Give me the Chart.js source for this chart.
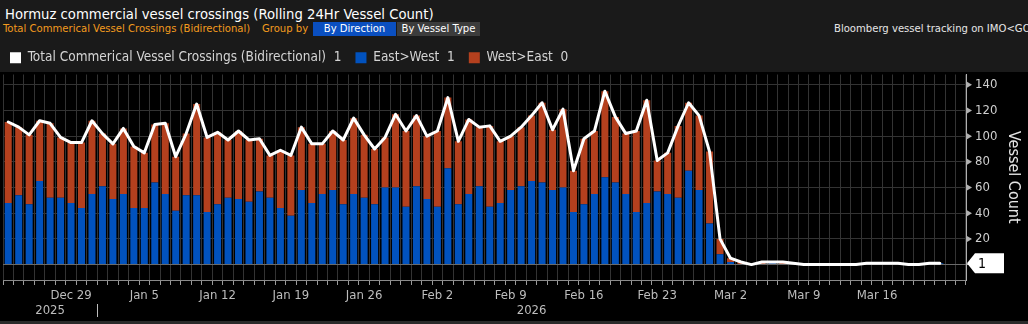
<!DOCTYPE html>
<html>
<head>
<meta charset="utf-8">
<script src="https://cdn.jsdelivr.net/npm/chart.js@4.4.1/dist/chart.umd.min.js"></script>
<style>
html, body { margin: 0; padding: 0; background: #000; width: 1028px; height: 324px; overflow: hidden; font-family: "DejaVu Sans Condensed", "DejaVu Sans", sans-serif; }
#hdr { position: absolute; left: 0; top: 0; width: 1028px; height: 72px; background: #1a1a1a; }
#title { position: absolute; left: 5px; top: 5px; font-size: 14.7px; color: #fff; white-space: nowrap; }
.sub { position: absolute; top: 22px; height: 14px; line-height: 14px; font-size: 11.2px; white-space: nowrap; }
.org { color: #f39a1e; }
.btn { color: #fff; text-align: center; }
#src { left: 834px; color: #e6e6e6; }
#foot { position: absolute; left: 0; top: 321px; width: 1028px; height: 3px; background: #2a2a2a; }
#wrap { position: absolute; left: -4px; top: 37px; }
</style>
</head>
<body>
<div id="hdr">
  <div id="title">Hormuz commercial vessel crossings (Rolling 24Hr Vessel Count)</div>
  <div class="sub org" style="left:3px">Total Commerical Vessel Crossings (Bidirectional)</div>
  <div class="sub org" style="left:262px">Group by</div>
  <div class="sub btn" style="left:313px;width:83px;background:#0a4fc0">By Direction</div>
  <div class="sub btn" style="left:397px;width:83px;background:#3c3c3c">By Vessel Type</div>
  <div class="sub" id="src">Bloomberg vessel tracking on IMO&lt;GO&gt;</div>
</div>
<div id="foot"></div>
<div id="wrap"><canvas id="myChart" width="1032" height="287"></canvas></div>
<script>
// one category per day, Dec 23 2025 .. Mar 23 2026 (last two slots empty)
const startDay = Date.UTC(2025, 11, 23);
const dayCount = 92;
const monthNames = ['Jan', 'Feb', 'Mar', 'Apr', 'May', 'Jun', 'Jul', 'Aug', 'Sep', 'Oct', 'Nov', 'Dec'];
const days = [];
const dayYears = [];
for (let i = 0; i < dayCount; i++) {
    const d = new Date(startDay + i * 86400000);
    days.push(monthNames[d.getUTCMonth()] + ' ' + d.getUTCDate());
    dayYears.push(String(d.getUTCFullYear()));
}
const tickLabels = ['Dec 29', 'Jan 5', 'Jan 12', 'Jan 19', 'Jan 26', 'Feb 2', 'Feb 9', 'Feb 16', 'Feb 23', 'Mar 2', 'Mar 9', 'Mar 16'];
const yearLabels = ['2025', '2026'];
const yTicks = [0, 10, 20, 30, 40, 50, 60, 70, 80, 90, 100, 110, 120, 130, 140];

const totalCrossings = [
    111, 107, 101, 112, 110, 99, 95, 95, 112, 102, 94, 106, 92, 87, 109, 110, 84, 102, 125, 99,
    103, 97, 104, 97, 98, 85, 89, 85, 107, 94, 94, 104, 97, 114, 101, 90, 99, 117, 104, 116,
    100, 104, 130, 96, 113, 107, 108, 96, 100, 107, 116, 126, 105, 121, 73, 98, 104, 135, 115, 102,
    104, 128, 81, 87, 108, 126, 116, 88, 20, 5, 2, 0, 2, 2, 2, 1, 0, 0, 0, 0,
    0, 0, 1, 1, 1, 1, 0, 0, 1, 1
];
const eastWest = [
    48, 54, 47, 65, 52, 52, 48, 44, 55, 61, 51, 55, 44, 44, 64, 55, 42, 54, 54, 41,
    47, 52, 51, 49, 57, 52, 44, 38, 58, 48, 55, 58, 47, 55, 52, 47, 60, 60, 45, 61,
    51, 45, 75, 47, 55, 61, 45, 48, 58, 61, 65, 64, 58, 60, 41, 47, 55, 68, 64, 55,
    41, 48, 57, 55, 52, 73, 58, 32, 8, 2, 0, 0, 0, 1, 0, 1, 0, 0, 0, 0,
    0, 0, 1, 1, 1, 1, 0, 0, 1, 1
];
const westEast = [
    63, 53, 54, 47, 58, 47, 47, 51, 57, 41, 43, 51, 48, 43, 45, 55, 42, 48, 71, 58,
    56, 45, 53, 48, 41, 33, 45, 47, 49, 46, 39, 46, 50, 59, 49, 43, 39, 57, 59, 55,
    49, 59, 55, 49, 58, 46, 63, 48, 42, 46, 51, 62, 47, 61, 32, 51, 49, 67, 51, 47,
    63, 80, 24, 32, 56, 53, 58, 56, 12, 3, 2, 0, 2, 1, 2, 0, 0, 0, 0, 0,
    0, 0, 0, 0, 0, 0, 0, 0, 0, 0
];

const FONT = 'DejaVu Sans Condensed';

// right axis markers, last value tag and year row
const overlay = {
    id: 'overlay',
    afterDraw(chart) {
        const ctx = chart.ctx;
        const x = chart.scales.x;
        const y = chart.scales.y;
        ctx.save();
        ctx.fillStyle = '#b0b0b0';
        yTicks.forEach(v => {
            if (v === 0 || v % 20 !== 0) return;
            const py = y.getPixelForValue(v);
            ctx.beginPath();
            ctx.moveTo(y.left + 1, py - 3);
            ctx.lineTo(y.left + 6, py);
            ctx.lineTo(y.left + 1, py + 3);
            ctx.closePath();
            ctx.fill();
        });

        const last = totalCrossings[totalCrossings.length - 1];
        const ty = y.getPixelForValue(last);
        ctx.fillStyle = '#fff';
        ctx.beginPath();
        ctx.moveTo(y.left + 1, ty);
        ctx.lineTo(y.left + 9, ty - 10);
        ctx.lineTo(y.left + 38, ty - 10);
        ctx.lineTo(y.left + 38, ty + 10);
        ctx.lineTo(y.left + 9, ty + 10);
        ctx.closePath();
        ctx.fill();
        ctx.fillStyle = '#000';
        ctx.font = '14px "' + FONT + '"';
        ctx.textBaseline = 'middle';
        ctx.textAlign = 'left';
        ctx.fillText(String(last), y.left + 12, ty + 1);

        const split = dayYears.indexOf(yearLabels[1]);
        const sx = (x.getPixelForValue(split - 1) + x.getPixelForValue(split)) / 2;
        const yy = x.top + 31;
        ctx.fillStyle = '#bdbdbd';
        ctx.font = '13px "' + FONT + '"';
        ctx.textAlign = 'center';
        ctx.fillText(yearLabels[0], (chart.chartArea.left + sx) / 2, yy);
        ctx.fillText(yearLabels[1], (sx + chart.chartArea.right) / 2, yy);
        ctx.fillRect(Math.round(sx), yy - 7, 1, 13);
        ctx.restore();
    }
};

const ctx = document.getElementById('myChart').getContext('2d');
const chart = new Chart(ctx, {
    type: 'bar',
    data: {
        labels: days,
        datasets: [{
            type: 'line',
            label: 'Total Commerical Vessel Crossings (Bidirectional)',
            data: totalCrossings,
            yAxisID: 'y',
            borderColor: '#ffffff',
            backgroundColor: '#ffffff',
            borderWidth: 3,
            pointRadius: 0,
            tension: 0,
            borderJoinStyle: 'round',
            borderCapStyle: 'round',
            order: 0
        }, {
            label: 'East>West',
            data: eastWest,
            yAxisID: 'y',
            backgroundColor: '#0152be',
            stack: 'dir',
            order: 1
        }, {
            label: 'West>East',
            data: westEast,
            yAxisID: 'y',
            backgroundColor: '#b4401e',
            stack: 'dir',
            order: 1
        }]
    },
    options: {
        responsive: false,
        animation: false,
        devicePixelRatio: 1,
        layout: { padding: 0 },
        datasets: {
            bar: { barPercentage: 0.67, categoryPercentage: 1, borderWidth: 0 }
        },
        plugins: {
            tooltip: { enabled: false },
            legend: {
                display: true,
                position: 'top',
                align: 'start',
                labels: {
                    boxWidth: 11,
                    boxHeight: 11,
                    padding: 14,
                    color: '#d4d4d4',
                    font: { family: FONT, size: 13.5 },
                    generateLabels(c) {
                        return c.data.datasets.map((ds, i) => ({
                            text: ds.label + '  ' + ds.data[ds.data.length - 1],
                            fillStyle: ds.backgroundColor,
                            strokeStyle: ds.backgroundColor,
                            lineWidth: 0,
                            fontColor: '#d4d4d4',
                            datasetIndex: i
                        }));
                    }
                }
            }
        },
        scales: {
            x: {
                stacked: true,
                offset: true,
                afterFit(scale) { scale.height = 44; },
                grid: { color: '#333', tickColor: '#9a9a9a', tickLength: 5, offset: true },
                border: { display: true, color: '#8a8a8a' },
                ticks: {
                    autoSkip: false,
                    maxRotation: 0,
                    minRotation: 0,
                    padding: 3,
                    color: '#bdbdbd',
                    font: { family: FONT, size: 13 },
                    callback(val, idx) { return tickLabels.includes(days[idx]) ? days[idx] : ''; }
                }
            },
            y: {
                stacked: true,
                position: 'right',
                min: -12,
                max: 148,
                afterFit(scale) { scale.width = 62; },
                afterBuildTicks(scale) { scale.ticks = yTicks.map(v => ({ value: v })); },
                grid: {
                    color: c => (c.tick && c.tick.value === 0 ? '#6a6a6a' : '#333'),
                    tickColor: '#b0b0b0',
                    tickLength: 5
                },
                border: { display: true, color: '#b0b0b0' },
                ticks: {
                    padding: 4,
                    color: '#cfcfcf',
                    font: { family: FONT, size: 13 },
                    callback(v) { return v > 0 && v % 20 === 0 ? v : ''; }
                },
                title: {
                    display: true,
                    text: 'Vessel Count',
                    color: '#e6e6e6',
                    font: { family: FONT, size: 16 },
                    padding: { top: 5, bottom: 0 }
                }
            },
            // empty left strip so the plot starts a few pixels in while the legend stays put
            edge: {
                type: 'linear',
                position: 'left',
                afterFit(scale) { scale.width = 7; },
                grid: { display: false },
                border: { display: false },
                ticks: { display: false }
            }
        }
    },
    plugins: [overlay]
});
</script>
</body>
</html>
